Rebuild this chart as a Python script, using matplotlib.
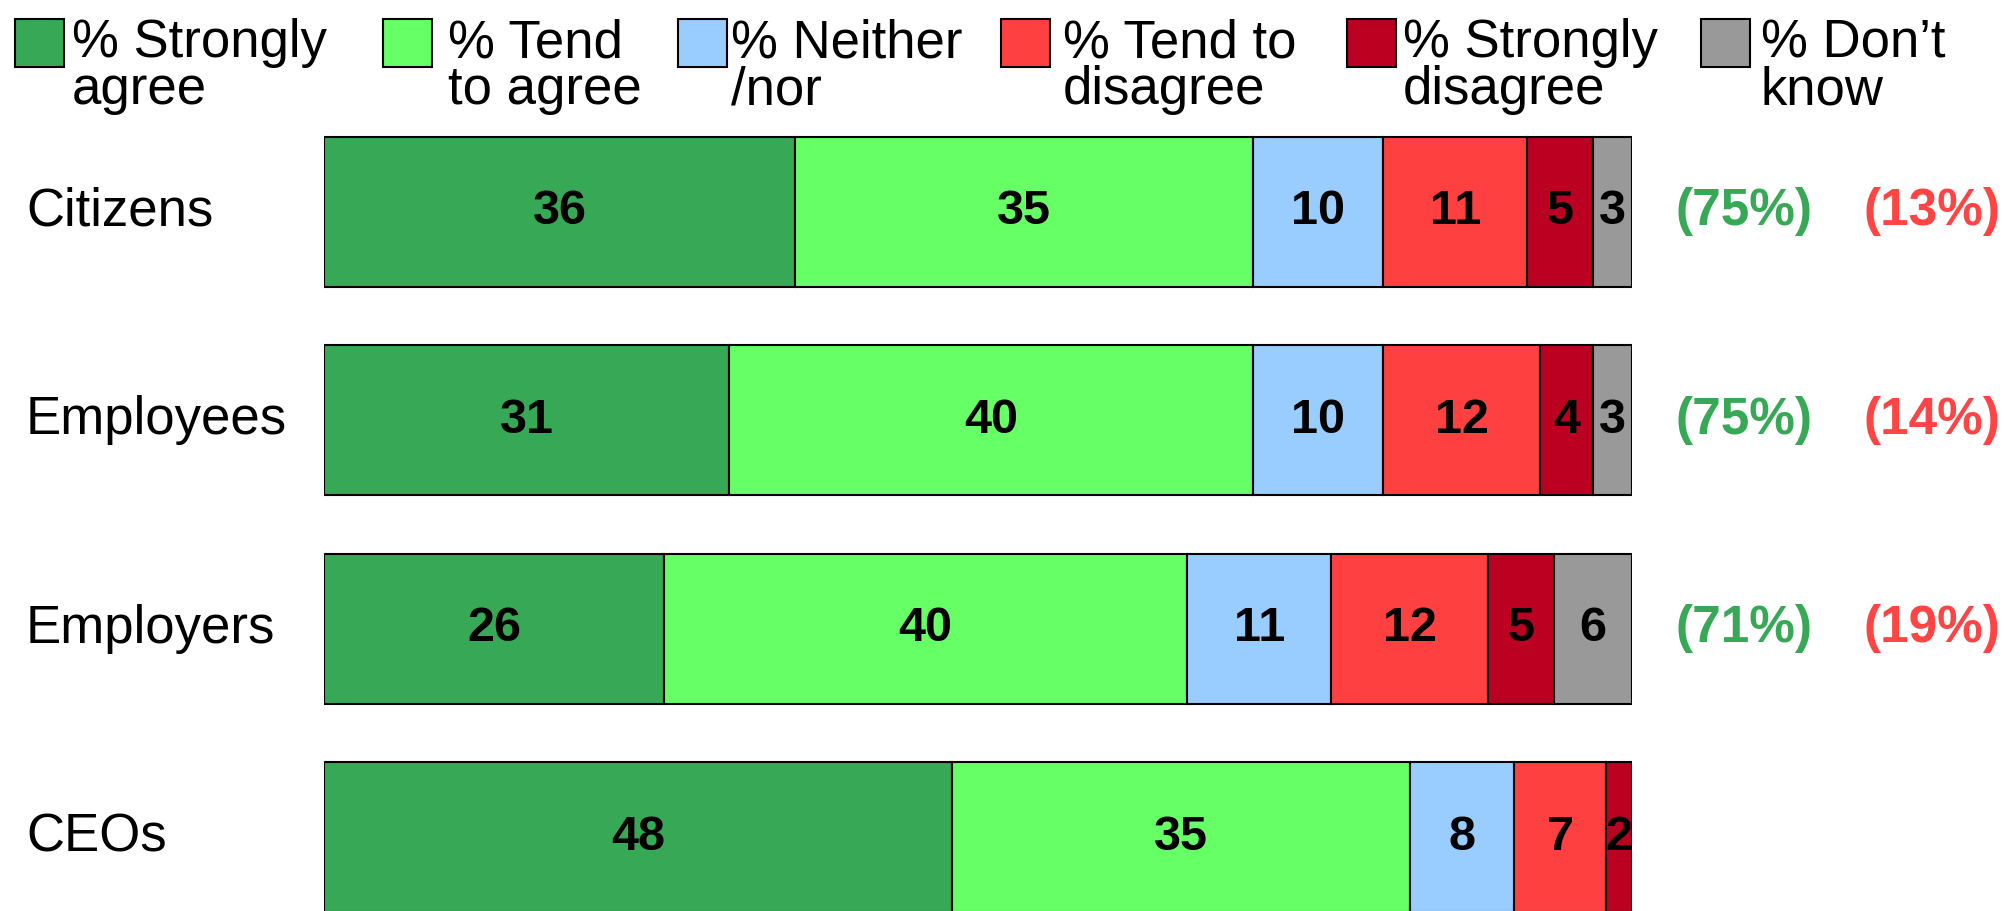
import matplotlib
matplotlib.use("Agg")
import matplotlib.pyplot as plt
from matplotlib.patches import Rectangle
import numpy as np

plt.rcParams['font.family'] = ['Liberation Sans', 'DejaVu Sans']

# データ
groups = ["Citizens", "Employees", "Employers", "CEOs"]
categories = ["% Strongly\nagree", "% Tend\nto agree", "% Neither\n/nor",
              "% Tend to\ndisagree", "% Strongly\ndisagree", "% Don\u2019t\nknow"]
strongly_agree = [36, 31, 26, 48]
tend_agree = [35, 40, 40, 35]
neither = [10, 10, 11, 8]
tend_disagree = [11, 12, 12, 7]
strongly_disagree = [5, 4, 5, 2]
dont_know = [3, 3, 6, 0]
agree_total = ["(75%)", "(75%)", "(71%)", ""]
disagree_total = ["(13%)", "(14%)", "(19%)", ""]

colors = ["#36A856", "#66FF66", "#99CCFF", "#FF4040", "#BB0022", "#999999"]
series = [strongly_agree, tend_agree, neither, tend_disagree, strongly_disagree, dont_know]

W, H = 2008, 911
fig = plt.figure(figsize=(W / 100, H / 100), dpi=100)

# 軸の位置 (ピクセル -> 図座標)
ax_left, ax_right = 324, 1632
ax_top, ax_bottom = 105, 911
ax = fig.add_axes([ax_left / W, 1 - ax_bottom / H, (ax_right - ax_left) / W, (ax_bottom - ax_top) / H])

y = np.arange(len(groups))
left = np.zeros(len(groups))
for vals, col in zip(series, colors):
    vals = np.array(vals, dtype=float)
    ax.barh(y, vals, left=left, height=0.72, color=col, edgecolor="black", linewidth=1.5)
    for yi, v, l in zip(y, vals, left):
        if v > 0:
            ax.text(l + v / 2, yi, f"{int(v)}", ha="center", va="center",
                    fontsize=35, fontweight="bold", color="black")
    left += vals

ax.set_xlim(0, 100)
ax.set_ylim(3.353, -0.513)
ax.axis("off")

# グループ名
for yi, g in zip(y, groups):
    ax.text((26 - ax_left) / (ax_right - ax_left), yi, g, transform=ax.get_yaxis_transform(),
            ha="left", va="center", fontsize=38, color="black")

# 合計 (右側)
for yi, a, d in zip(y, agree_total, disagree_total):
    ax.text(108.6, yi, a, ha="center", va="center", fontsize=37, fontweight="bold",
            color="#36A856", clip_on=False)
    ax.text(122.9, yi, d, ha="center", va="center", fontsize=37, fontweight="bold",
            color="#FF4444", clip_on=False)

# 凡例 (手動配置)
patch_x = [15, 383, 678, 1001, 1347, 1701]
text_x = [72, 448, 731, 1063, 1403, 1761]
for px, tx, lab, col in zip(patch_x, text_x, categories, colors):
    fig.add_artist(Rectangle((px / W, 1 - 67 / H), 49 / W, 48 / H, transform=fig.transFigure,
                             facecolor=col, edgecolor="black", linewidth=1.5))
    fig.text(tx / W, 1 - 18 / H, lab, ha="left", va="top", fontsize=38,
             linespacing=0.93, color="black")

fig.savefig("out.png", dpi=100)
